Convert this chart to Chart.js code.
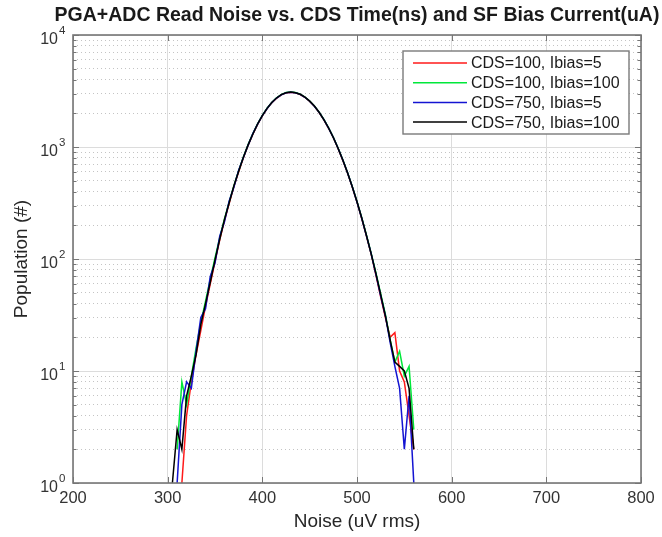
<!DOCTYPE html>
<html>
<head>
<meta charset="utf-8">
<script src="https://cdn.jsdelivr.net/npm/chart.js@4"></script>
<style>
  body { margin: 0; background: #fff; }
  #noiseChart { display: block; }
</style>
</head>
<body>
<canvas id="noiseChart" width="662" height="537"></canvas>
<script>
const chartTitle = "PGA+ADC Read Noise vs. CDS Time(ns) and SF Bias Current(uA)";

const noiseBins = [300,305,310,315,320,325,330,335,340,345,350,355,360,365,370,375,380,385,390,395,400,405,410,415,420,425,430,435,440,445,450,455,460,465,470,475,480,485,490,495,500,505,510,515,520,525,530,535,540,545,550,555,560,565,570];

const cds100Ibias5   = [0,0,0,1,4,8,14,23,38,60,95,148,220,315,445,600,800,1035,1300,1590,1900,2200,2480,2720,2920,3040,3080,3050,2940,2770,2560,2310,2030,1750,1470,1210,970,760,585,440,322,230,160,110,72,46,30,20,22,10,8,4,2,0,0];
const cds100Ibias100 = [0,0,2,8,5,9,16,27,42,66,102,155,228,325,452,615,815,1050,1320,1610,1915,2220,2500,2750,2940,3060,3100,3060,2960,2790,2575,2320,2045,1760,1480,1220,980,770,592,445,326,234,163,112,75,49,32,19,12,15,9,11,3,0,0];
const cds750Ibias5   = [0,0,1,5,8,7,15,30,36,70,92,160,215,330,440,620,805,1040,1315,1600,1910,2205,2490,2735,2925,3045,3085,3050,2950,2780,2565,2315,2040,1755,1475,1215,975,765,588,441,323,231,161,111,73,47,31,18,11,7,2,6,1,0,0];
const cds750Ibias100 = [0,1,3,2,6,9,14,26,40,62,98,150,225,318,450,608,810,1045,1305,1605,1905,2215,2495,2740,2935,3050,3095,3055,2955,2785,2568,2318,2043,1757,1478,1217,976,766,589,442,324,232,162,111,74,48,31,19,12,11,10,7,2,0,0];

const seriesLabels = ["CDS=100, Ibias=5", "CDS=100, Ibias=100", "CDS=750, Ibias=5", "CDS=750, Ibias=100"];
const seriesColors = ["#ff1a1a", "#00e83a", "#1414d2", "#000000"];

const xTicks = [200,300,400,500,600,700,800];
const yDecades = [1,10,100,1000,10000];
const yExponents = ["0","1","2","3","4"];
const yGridValues = [1,2,3,4,5,6,7,8,9,10,20,30,40,50,60,70,80,90,100,200,300,400,500,600,700,800,900,1000,2000,3000,4000,5000,6000,7000,8000,9000,10000];

const allSeries = [cds100Ibias5, cds100Ibias100, cds750Ibias5, cds750Ibias100];

// later series are plotted on top, like the original plot
const datasets = allSeries.map((values, i) => ({
    label: seriesLabels[i],
    data: values.map((v, j) => ({ x: noiseBins[j], y: v })),
    borderColor: seriesColors[i],
    backgroundColor: seriesColors[i],
    borderWidth: 1.5,
    pointRadius: 0,
    tension: 0,
    fill: false,
    order: allSeries.length - 1 - i
}));

const frameColor = '#767676';

const matlabFrame = {
    id: 'matlabFrame',
    afterDatasetsDraw(chart) {
        const { ctx, chartArea: a, scales: { x, y } } = chart;
        ctx.save();
        ctx.strokeStyle = frameColor;
        ctx.lineWidth = 1;
        ctx.beginPath();
        xTicks.forEach(v => {
            const px = Math.round(x.getPixelForValue(v)) + 0.5;
            ctx.moveTo(px, a.bottom); ctx.lineTo(px, a.bottom - 6);
            ctx.moveTo(px, a.top); ctx.lineTo(px, a.top + 6);
        });
        yGridValues.forEach(v => {
            const py = Math.round(y.getPixelForValue(v)) + 0.5;
            const len = yDecades.includes(v) ? 6 : 3.5;
            ctx.moveTo(a.left, py); ctx.lineTo(a.left + len, py);
            ctx.moveTo(a.right, py); ctx.lineTo(a.right - len, py);
        });
        ctx.stroke();
        ctx.lineWidth = 1.6;
        ctx.strokeRect(a.left, a.top, a.right - a.left, a.bottom - a.top);

        // legend, top right inside the axes
        const lx = 403, ly = 51, lw = 226, lh = 83;
        ctx.fillStyle = '#fff';
        ctx.fillRect(lx, ly, lw, lh);
        ctx.strokeStyle = '#7a7a7a';
        ctx.lineWidth = 1.4;
        ctx.strokeRect(lx, ly, lw, lh);
        ctx.font = '16px "Liberation Sans", Arial, sans-serif';
        ctx.textBaseline = 'middle';
        ctx.textAlign = 'left';
        chart.data.datasets.forEach((ds, i) => {
            const cy = ly + 12 + i * 19.7;
            ctx.strokeStyle = ds.borderColor;
            ctx.lineWidth = 1.5;
            ctx.beginPath();
            ctx.moveTo(lx + 10, cy); ctx.lineTo(lx + 64, cy);
            ctx.stroke();
            ctx.fillStyle = '#1a1a1a';
            ctx.fillText(ds.label, lx + 68, cy + 1);
        });
        ctx.restore();
    },
    afterDraw(chart) {
        const { ctx, chartArea: a, scales: { y } } = chart;
        ctx.save();
        ctx.fillStyle = '#1a1a1a';
        ctx.textBaseline = 'middle';
        ctx.textAlign = 'center';
        ctx.font = 'bold 19.5px "Liberation Sans", Arial, sans-serif';
        ctx.fillText(chartTitle, (a.left + a.right) / 2, 16);

        ctx.fillStyle = '#333';
        yDecades.forEach((v, i) => {
            const py = y.getPixelForValue(v);
            ctx.textAlign = 'right';
            ctx.font = '16px "Liberation Sans", Arial, sans-serif';
            ctx.fillText("10", a.left - 15, py + 5);
            ctx.textAlign = 'left';
            ctx.font = '11.5px "Liberation Sans", Arial, sans-serif';
            ctx.fillText(yExponents[i], a.left - 14, py - 4);
        });
        ctx.restore();
    }
};

new Chart(document.getElementById('noiseChart'), {
    type: 'line',
    data: { datasets: datasets },
    options: {
        responsive: false,
        animation: false,
        devicePixelRatio: 1,
        layout: { padding: { left: 0, right: 21, top: 35, bottom: 0 } },
        plugins: {
            legend: { display: false },
            title: { display: false },
            tooltip: { enabled: false }
        },
        scales: {
            x: {
                type: 'linear',
                min: 200,
                max: 800,
                afterBuildTicks: (scale) => { scale.ticks = xTicks.map(v => ({ value: v })); },
                afterFit: (scale) => { scale.height = 54; },
                ticks: {
                    padding: 6,
                    color: '#333',
                    font: { family: '"Liberation Sans", Arial, sans-serif', size: 16.5 }
                },
                grid: { color: '#dcdcdc', lineWidth: 1, drawTicks: false },
                border: { display: false },
                title: {
                    display: true,
                    text: 'Noise (uV rms)',
                    color: '#262626',
                    padding: { top: 0, bottom: 4 },
                    font: { family: '"Liberation Sans", Arial, sans-serif', size: 19 }
                }
            },
            y: {
                type: 'logarithmic',
                min: 1,
                max: 10000,
                afterBuildTicks: (scale) => { scale.ticks = yGridValues.map(v => ({ value: v })); },
                afterFit: (scale) => { scale.width = 73; },
                ticks: { display: false, autoSkip: false },
                grid: {
                    drawTicks: false,
                    lineWidth: 1,
                    color: (c) => yDecades.includes(c.tick && c.tick.value) ? '#dcdcdc' : '#c4c4c4'
                },
                border: {
                    display: false,
                    dash: (c) => (c.tick && !yDecades.includes(c.tick.value)) ? [1, 3] : []
                },
                title: {
                    display: true,
                    text: 'Population (#)',
                    color: '#262626',
                    padding: { top: 10, bottom: 0 },
                    font: { family: '"Liberation Sans", Arial, sans-serif', size: 19 }
                }
            }
        }
    },
    plugins: [matlabFrame]
});
</script>
</body>
</html>
